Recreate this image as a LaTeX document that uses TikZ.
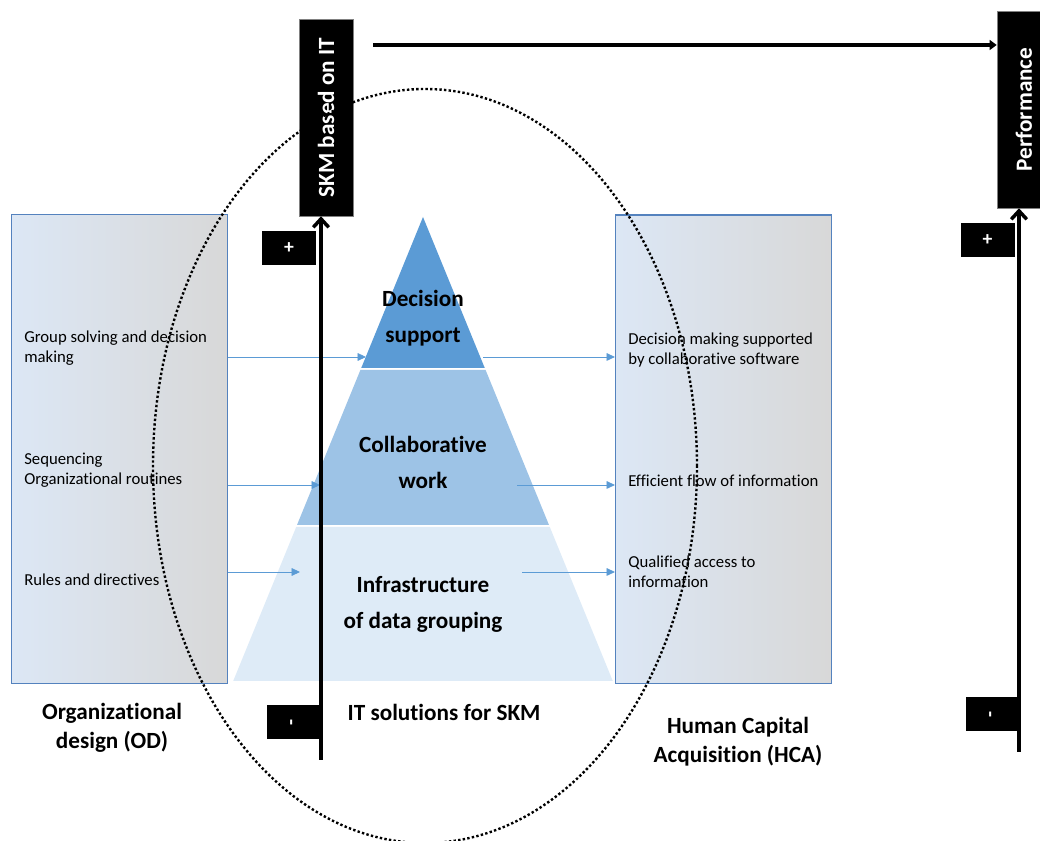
\documentclass[tikz,border=0pt]{standalone}
\usepackage{fontspec}
\setmainfont{Carlito}[Ligatures=NoCommon]
\usetikzlibrary{positioning}
\usetikzlibrary{arrows.meta}

\definecolor{boxline}{RGB}{84,130,190}
\definecolor{boxblue}{RGB}{220,231,245}
\definecolor{boxgray}{RGB}{216,216,216}
\definecolor{flowblue}{RGB}{91,155,213}
\definecolor{bandtop}{RGB}{91,155,213}
\definecolor{bandmid}{RGB}{157,195,230}
\definecolor{bandlow}{RGB}{222,235,247}

\begin{document}
\begin{tikzpicture}[
 sidebox/.style={rectangle, draw=boxline, line width=0.8pt,
   minimum width=5.4cm, minimum height=11.72cm,
   left color=boxblue, right color=boxgray},
 itemtext/.style={anchor=west, align=left, inner sep=0pt,
   font=\fontsize{11.9}{14.2}\selectfont},
 label/.style={align=center, font=\fontsize{16.5}{21}\selectfont\bfseries},
 bandtext/.style={align=center, font=\fontsize{16.5}{25.5}\selectfont\bfseries},
 blackbox/.style={rectangle, fill=black, draw=gray, text=white,
   minimum width=1.35cm, minimum height=4.925cm,
   font=\fontsize{16.5}{20}\selectfont\bfseries},
 signbox/.style={rectangle, fill=black, text=white,
   minimum width=1.35cm, minimum height=0.85cm,
   font=\fontsize{14}{16}\selectfont\bfseries},
 flow/.style={draw=flowblue, line width=0.6pt, -{Triangle[length=6pt,width=5.5pt]}},
 effect/.style={line width=2.5pt, -{Straight Barb[length=6pt,width=11pt]}},
 push/.style={line width=2.6pt, -{Triangle[length=5pt,width=7pt]}}
 ]
 \useasboundingbox (0,0) rectangle (26,21.025);
 \clip (0,0) rectangle (26,21.025);

 \node[sidebox] (OD) at (2.9875,9.8) {};
 \node[sidebox] (HCA) at (18.0875,9.79) {};

 \node[itemtext] (od1) at (0.6,12.325) {Group solving and decision\\making};
 \node[itemtext] (od2) at (0.6,9.275) {Sequencing\\Organizational routines};
 \node[itemtext] (od3) at (0.6,6.525) {Rules and directives};
 \node[itemtext] (hca1) at (15.7,12.275) {Decision making supported\\by collaborative software};
 \node[itemtext] (hca2) at (15.7,9.0) {Efficient flow of information};
 \node[itemtext] (hca3) at (15.7,6.725) {Qualified access to\\information};

 \fill[bandtop] (10.575,15.6) -- (12.119,11.825) -- (9.031,11.825) -- cycle;
 \fill[bandmid] (9.01,11.775) -- (12.14,11.775) -- (13.725,7.9) -- (7.425,7.9) -- cycle;
 \fill[bandlow] (7.405,7.85) -- (13.745,7.85) -- (15.32,4.0) -- (5.83,4.0) -- cycle;

 \node[bandtext] (DS) at (10.575,13.075) {Decision\\support};
 \node[bandtext] (CW) at (10.575,9.4625) {Collaborative\\work};
 \node[bandtext] (IDG) at (10.575,5.925) {Infrastructure\\of data grouping};

 \coordinate (L1) at (9.15,12.1);
 \coordinate (L2) at (8.0,8.9);
 \coordinate (L3) at (7.5,6.725);
 \coordinate (R1) at (12.075,12.1);
 \coordinate (R2) at (12.925,8.9);
 \coordinate (R3) at (13.05,6.725);
 \draw[flow] (OD.east |- L1) -- (L1);
 \draw[flow] (OD.east |- L2) -- (L2);
 \draw[flow] (OD.east |- L3) -- (L3);
 \draw[flow] (R1) -- (R1 -| HCA.west);
 \draw[flow] (R2) -- (R2 -| HCA.west);
 \draw[flow] (R3) -- (R3 -| HCA.west);

 \node[blackbox] (SKM) at (8.15,18.0875) {\rotatebox{90}{SKM based on IT}};
 \node[blackbox] (P) at (25.6,18.2875) {\rotatebox{90}{Performance}};

 \coordinate (SKMfoot) at (8.025,2.025);
 \coordinate (Pfoot) at (25.475,2.225);
 \draw[effect] (SKMfoot) -- (SKMfoot |- SKM.south);
 \draw[effect] (Pfoot) -- (Pfoot |- P.south);

 \node[signbox] (SKMplus) at (7.225,14.8125) {+};
 \node[signbox] (SKMminus) at (7.3375,2.9625) {\rotatebox{90}{-}};
 \node[signbox] (Pplus) at (24.6875,15.025) {+};
 \node[signbox] (Pminus) at (24.8125,3.1625) {\rotatebox{90}{-}};

 \coordinate (start) at (9.325,19.9);
 \draw[push] (start) -- (start -| P.west);

 \draw[line width=1.7pt, dash pattern=on 1.7pt off 1.6pt] (10.625,9.375) ellipse (6.8cm and 9.425cm);

 \node[label] (ODlabel) at (2.8,2.825) {Organizational\\design (OD)};
 \node[label] (ITlabel) at (11.1,3.225) {IT solutions for SKM};
 \node[label] (HCAlabel) at (18.45,2.4875) {Human Capital\\Acquisition (HCA)};
\end{tikzpicture}
\end{document}
